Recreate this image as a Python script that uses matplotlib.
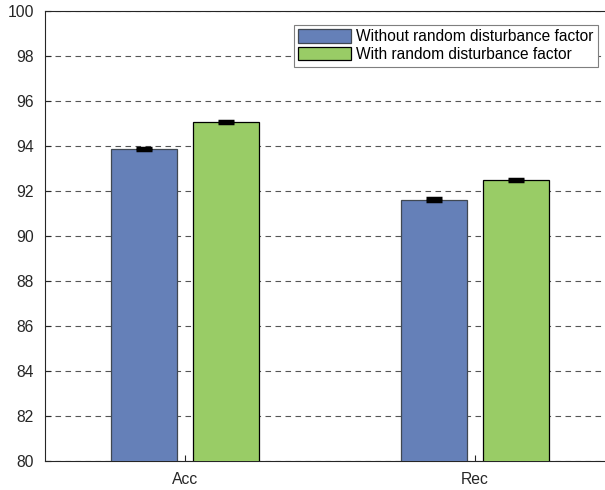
import numpy as np
import matplotlib
matplotlib.use('Agg')
import matplotlib.pyplot as plt

plt.rcParams['font.family'] = ['Liberation Sans', 'DejaVu Sans']

# data
categories = ['Acc', 'Rec']
series_names = ['Without random disturbance factor', 'With random disturbance factor']
without_vals = [93.87, 91.62]
with_vals = [95.08, 92.50]
without_err = [0.05, 0.05]
with_err = [0.05, 0.05]
yticks = [80, 82, 84, 86, 88, 90, 92, 94, 96, 98, 100]

colors = ['#6580B8', '#99CC66']
edges = ['#404852', '#000000']

W, H = 605, 490
fig = plt.figure(figsize=(W / 100, H / 100), dpi=100)
# axes runs past the right edge of the picture, like the reference
ax = fig.add_axes([45 / W, (H - 461) / H, 580 / W, 450 / H])

x = np.arange(1, len(categories) + 1)
width = 0.2276
offset = 0.1414

for i, (vals, errs) in enumerate([(without_vals, without_err), (with_vals, with_err)]):
    pos = x + (i * 2 - 1) * offset
    ax.bar(pos, vals, width, color=colors[i], edgecolor=edges[i], linewidth=0.9,
           label=series_names[i], zorder=3)
    ax.errorbar(pos, vals, yerr=errs, fmt='none', ecolor='black', elinewidth=3,
                capsize=5.5, capthick=2.5, zorder=4)

x0 = 1 - 140 / 290
ax.set_xlim(x0, x0 + 2.0)
ax.set_ylim(80, 100)
ax.set_yticks(yticks)
ax.set_xticks(x)
ax.set_xticklabels(categories)

ax.yaxis.grid(True, linestyle=(0, (5, 4)), color='#555555', linewidth=0.8, zorder=0)
ax.set_axisbelow(True)

ax.tick_params(direction='in', length=4, width=0.8, labelsize=11.3,
               colors='#262626', top=False, right=False)
ax.tick_params(axis='x', pad=8)
ax.tick_params(axis='y', pad=8)
for s in ax.spines.values():
    s.set_color('#262626')
    s.set_linewidth(0.8)

leg = ax.legend(loc='upper left', bbox_to_anchor=(241 / 580, 1 - 6 / 450),
                fontsize=11.2, handlelength=3.4, handleheight=0.95,
                handletextpad=0.3, labelspacing=0.15, borderpad=0.3,
                fancybox=False, framealpha=1, edgecolor='#7f7f7f')
leg.get_frame().set_linewidth(0.8)

fig.savefig('out.png', dpi=100)
